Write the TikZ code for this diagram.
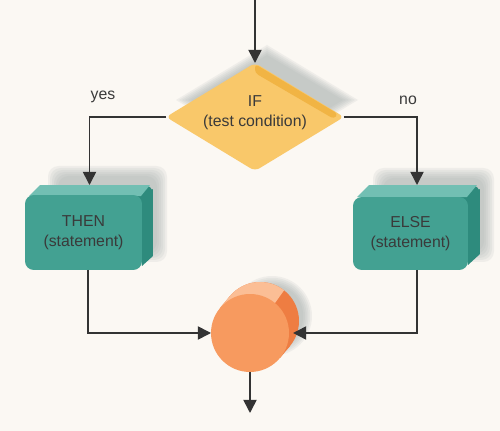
\documentclass[tikz,border=0pt]{standalone}
\usepackage{fontspec}
\setmainfont{Liberation Sans}
\usetikzlibrary{shapes.geometric,arrows.meta,calc}
\definecolor{bg}{HTML}{FBF8F3}
\definecolor{shadowc}{HTML}{9FAAAA}
\definecolor{yelfront}{HTML}{F9C86A}
\definecolor{yelband}{HTML}{F1B444}
\definecolor{tealfront}{HTML}{43A192}
\definecolor{teallight}{HTML}{72BFB3}
\definecolor{tealdark}{HTML}{2E8B7D}
\definecolor{orfront}{HTML}{F79A5F}
\definecolor{orlight}{HTML}{FBBE95}
\definecolor{ordark}{HTML}{EE7D42}
\definecolor{linec}{HTML}{333333}
\definecolor{textc}{HTML}{3A3A3A}
\begin{document}
\begin{tikzpicture}[x=0.02cm,y=-0.02cm,
  conn/.style={draw=linec, line width=0.9pt, -{Triangle[length=7.5pt,width=7.5pt]}},
  lbl/.style={text=textc, font=\fontsize{9}{11}\selectfont, inner sep=0pt},
  txt/.style={text=textc, font=\fontsize{9}{11.3}\selectfont, align=center, inner sep=0pt},
  frontbox/.style={rectangle, rounded corners=5pt, fill=tealfront, inner sep=0pt, outer sep=0pt, txt},
  backbox/.style={rectangle, rounded corners=5pt, fill=tealdark, inner sep=0pt, outer sep=0pt},
  ball/.style={circle, minimum size=1.56cm, inner sep=0pt, outer sep=0pt}
]
\fill[bg] (0,0) rectangle (500,431);
\useasboundingbox (0,0) rectangle (500,431);

% ---------- shadows ----------
\foreach \k in {0,...,5}{
  \fill[shadowc, opacity=0.13, rounded corners=6pt] (48+\k*2,166+\k*2) rectangle (167-\k*2,262-\k*2);
  \fill[shadowc, opacity=0.13, rounded corners=6pt] (373+\k*2,168+\k*2) rectangle (494-\k*2,262-\k*2);
  \fill[shadowc, opacity=0.13] (267,45+\k*2) -- (358-\k*3,100) -- (267,155-\k*2) -- (176+\k*3,100) -- cycle;
  \fill[shadowc, opacity=0.13] (272,316) circle[radius=0.80cm-\k*0.035cm];
}

% ---------- decision (diamond) ----------
\node[diamond, minimum width=3.56cm, minimum height=2.16cm, fill=yelfront,
      inner sep=0pt, outer sep=0pt, rounded corners=3pt] (if) at (255,117) {};
\fill[yelband, rounded corners=2pt] ($(if.north)+(0,1)$) -- ($(if.east)+(-6,-3)$) -- ($(if.east)+(-10,2)$) -- ($(if.north)+(0,10)$) -- cycle;
\node[txt] (iftext) at (255,113) {IF\\(test condition)};

% ---------- THEN box ----------
\node[backbox, minimum width=2.34cm, minimum height=1.5cm] (thenback) at (94.5,222.5) {};
\fill[tealdark] ($(thenback.north east)+(0,4)$) -- ($(thenback.south east)+(0,-4)$) -- ($(thenback.south east)+(-11,6)$) -- ($(thenback.north east)+(-11,10)$) -- cycle;
\fill[teallight] ($(thenback.north west)+(4,0)$) -- ($(thenback.north east)+(-3,0)$) -- ($(thenback.north east)+(-12,11)$) -- ($(thenback.north west)+(-7,11)$) -- cycle;
\node[frontbox, minimum width=2.34cm, minimum height=1.5cm] (then) at (83.5,232.5) {THEN\\(statement)};

% ---------- ELSE box ----------
\node[backbox, minimum width=2.3cm, minimum height=1.46cm] (elseback) at (422.5,221.5) {};
\fill[tealdark] ($(elseback.north east)+(0,4)$) -- ($(elseback.south east)+(0,-4)$) -- ($(elseback.south east)+(-12,7)$) -- ($(elseback.north east)+(-12,11)$) -- cycle;
\fill[teallight] ($(elseback.north west)+(4,0)$) -- ($(elseback.north east)+(-3,0)$) -- ($(elseback.north east)+(-13,12)$) -- ($(elseback.north west)+(-8,12)$) -- cycle;
\node[frontbox, minimum width=2.3cm, minimum height=1.46cm] (else) at (410.5,233.5) {ELSE\\(statement)};

% ---------- join (cylinder) ----------
\node[ball, fill=ordark] (joinback) at (260,321) {};
\fill[ordark] (220,308) -- (230,296) -- (290,346) -- (280,358) -- cycle;
\begin{scope}
  \clip (247.6,341.4) -- (307.6,257.4) -- (150,257.4) -- (150,341.4) -- cycle;
  \fill[orlight] (260,321) circle[radius=0.78cm];
  \fill[orlight] (220,308) -- (230,296) -- (290,346) -- (280,358) -- cycle;
\end{scope}
\node[ball, fill=orfront] (join) at (250,333) {};

% ---------- connectors ----------
\coordinate (start) at (255,0);
\coordinate (finish) at (250,413);
\draw[conn] (start) -- (if.north);
\draw[conn] (if.west) -| ([xshift=-0.1cm]thenback.north);
\draw[conn] (if.east) -| ([xshift=-0.11cm]elseback.north);
\draw[conn] ([xshift=0.09cm]then.south) |- (join.west);
\draw[conn, shorten >=2.3pt] ([xshift=0.13cm]else.south) |- (join.east);
\draw[conn] (join.south) -- (finish);

% ---------- labels ----------
\node[lbl] (yes) at (103,97) {yes};
\node[lbl] (no) at (408,100) {no};
\end{tikzpicture}
\end{document}
